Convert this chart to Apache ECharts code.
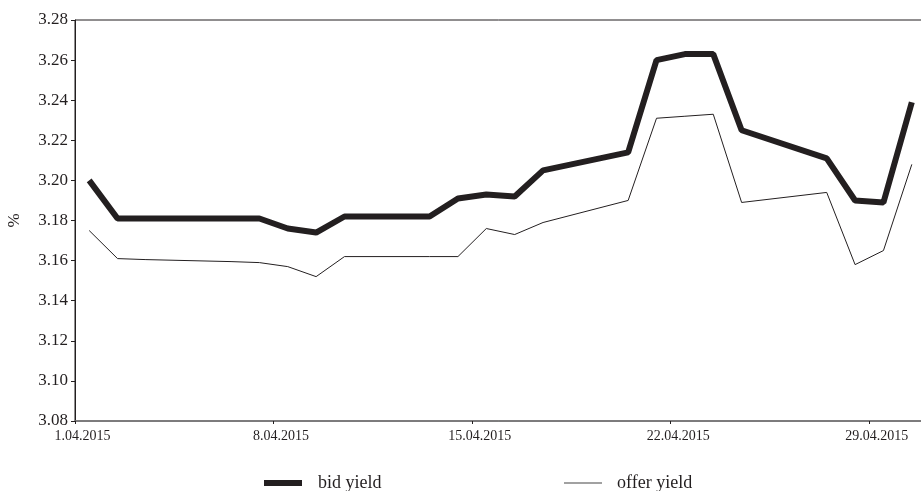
<!DOCTYPE html>
<html>
<head>
<meta charset="utf-8">
<script src="https://cdn.jsdelivr.net/npm/echarts@6/dist/echarts.min.js"></script>
<style>html,body{margin:0;padding:0;background:#fff;}#c{width:921px;height:491px;}</style>
</head>
<body>
<div id="c"></div>
<script>
const dates = ['2015-04-01','2015-04-02','2015-04-03','2015-04-06','2015-04-07','2015-04-08','2015-04-09','2015-04-10','2015-04-13','2015-04-14','2015-04-15','2015-04-16','2015-04-17','2015-04-20','2015-04-21','2015-04-22','2015-04-23','2015-04-24','2015-04-27','2015-04-28','2015-04-29','2015-04-30'];
const bidYield = [3.200,3.181,3.181,3.181,3.181,3.176,3.174,3.182,3.182,3.191,3.193,3.192,3.205,3.214,3.260,3.263,3.263,3.225,3.211,3.190,3.189,3.239];
const offerYield = [3.175,3.161,3.1605,3.1595,3.159,3.157,3.152,3.162,3.162,3.162,3.176,3.173,3.179,3.190,3.231,3.232,3.233,3.189,3.194,3.158,3.165,3.208];
const xTickLabels = ['1.04.2015','8.04.2015','15.04.2015','22.04.2015','29.04.2015'];

// x position = day of month - 0.5 (points plotted at centre of each day)
const dayPos = d => Number(d.slice(8)) - 0.5;
const bidData = dates.map((d, i) => [dayPos(d), bidYield[i]]);
const offerData = dates.map((d, i) => [dayPos(d), offerYield[i]]);

const ink = '#231f20';
const font = 'Liberation Serif';
const chart = echarts.init(document.getElementById('c'));
chart.setOption({
  animation: false,
  grid: { left: 75, top: 20, bottom: 70, right: -5, containLabel: false, outerBoundsMode: 'none',
          show: true, borderColor: ink, borderWidth: 1, backgroundColor: 'transparent' },
  xAxis: {
    type: 'value', min: 0, max: 30, interval: 7,
    axisLine: { show: true, lineStyle: { color: '#777', width: 1.5 } },
    axisTick: { show: true, length: 3, lineStyle: { color: ink } },
    splitLine: { show: false },
    axisLabel: {
      color: ink, fontFamily: font, fontSize: 14, margin: 8,
      padding: [0, 0, 0, 15], showMaxLabel: false, hideOverlap: false,
      formatter: v => (v % 7 === 0 ? (xTickLabels[v / 7] || '') : '')
    }
  },
  yAxis: {
    type: 'value', min: 3.08, max: 3.28, interval: 0.02,
    name: '%', nameLocation: 'middle', nameGap: 52, nameRotate: 90,
    nameTextStyle: { color: ink, fontFamily: font, fontSize: 17 },
    axisLine: { show: true, lineStyle: { color: ink, width: 1 } },
    axisTick: { show: true, length: 4, lineStyle: { color: ink } },
    splitLine: { show: false },
    axisLabel: { color: ink, fontFamily: font, fontSize: 17, margin: 7, formatter: v => v.toFixed(2) }
  },
  legend: [
    { data: ['bid yield'], left: 264, top: 474, padding: 0, icon: 'rect', itemWidth: 38, itemHeight: 6,
      itemStyle: { color: ink }, textStyle: { color: ink, fontFamily: font, fontSize: 18, padding: [0, 0, 0, 11] } },
    { data: ['offer yield'], left: 564, top: 474, padding: 0, icon: 'rect', itemWidth: 38, itemHeight: 1,
      itemStyle: { color: '#444' }, textStyle: { color: ink, fontFamily: font, fontSize: 18, padding: [0, 0, 0, 10] } }
  ],
  series: [
    { name: 'bid yield', type: 'line', data: bidData, showSymbol: false, symbol: 'none',
      lineStyle: { color: ink, width: 6 }, itemStyle: { color: ink } },
    { name: 'offer yield', type: 'line', data: offerData, showSymbol: false, symbol: 'none',
      lineStyle: { color: ink, width: 1 }, itemStyle: { color: ink } }
  ]
});
</script>
</body>
</html>
